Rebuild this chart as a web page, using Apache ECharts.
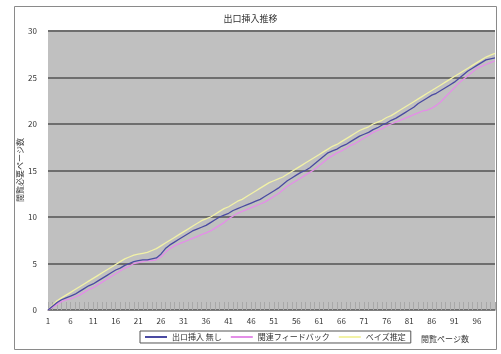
<!DOCTYPE html>
<html>
<head>
<meta charset="utf-8">
<script src="https://cdn.jsdelivr.net/npm/echarts@6/dist/echarts.min.js"></script>
<style>
html,body{margin:0;padding:0;background:#fff;}
#chart{width:501px;height:354px;}
</style>
</head>
<body>
<div id="chart"></div>
<script>
// 閲覧ページ数 1..100
const pages = [];
for (let i = 1; i <= 100; i++) pages.push(String(i));

const seriesNames = ['出ロ挿入 無し', '関連フィードバック', 'ベイズ推定'];

const noInsert = [
  0, 0.4, 0.8, 1.1, 1.3, 1.5, 1.7, 2.0, 2.3, 2.6,
  2.8, 3.1, 3.4, 3.7, 4.0, 4.3, 4.5, 4.8, 5.0, 5.2,
  5.3, 5.4, 5.4, 5.5, 5.6, 6.0, 6.6, 7.0, 7.3, 7.6,
  7.9, 8.2, 8.5, 8.7, 8.9, 9.1, 9.4, 9.7, 10.0, 10.2,
  10.4, 10.7, 10.9, 11.1, 11.3, 11.5, 11.7, 11.9, 12.2, 12.5,
  12.8, 13.1, 13.5, 13.9, 14.2, 14.5, 14.8, 15.0, 15.3, 15.7,
  16.1, 16.5, 16.9, 17.1, 17.3, 17.6, 17.8, 18.1, 18.4, 18.7,
  18.9, 19.1, 19.4, 19.6, 19.9, 20.1, 20.4, 20.6, 20.9, 21.2,
  21.5, 21.8, 22.2, 22.5, 22.8, 23.1, 23.3, 23.6, 23.9, 24.2,
  24.5, 24.9, 25.3, 25.7, 26.0, 26.3, 26.6, 26.9, 27.0, 27.1
];

const feedback = [
  0, 0.3, 0.6, 0.9, 1.1, 1.2, 1.4, 1.6, 1.9, 2.2,
  2.4, 2.7, 3.0, 3.3, 3.6, 3.9, 4.2, 4.5, 4.7, 5.0,
  5.1, 5.2, 5.3, 5.3, 5.4, 5.7, 6.2, 6.6, 6.9, 7.1,
  7.3, 7.5, 7.7, 7.9, 8.1, 8.3, 8.5, 8.8, 9.1, 9.4,
  9.8, 10.1, 10.4, 10.6, 10.8, 11.0, 11.2, 11.4, 11.6, 11.9,
  12.2, 12.5, 12.9, 13.3, 13.6, 13.9, 14.2, 14.5, 14.8, 15.1,
  15.5, 15.9, 16.3, 16.6, 16.9, 17.1, 17.4, 17.7, 17.9, 18.2,
  18.5, 18.8, 19.1, 19.3, 19.5, 19.8, 20.0, 20.2, 20.4, 20.6,
  20.8, 21.0, 21.2, 21.4, 21.5, 21.7, 22.0, 22.4, 22.9, 23.4,
  23.9, 24.4, 24.8, 25.2, 25.6, 26.0, 26.2, 26.4, 26.6, 26.8
];

const bayes = [
  0, 0.5, 1.0, 1.3, 1.6, 1.9, 2.2, 2.5, 2.8, 3.1,
  3.4, 3.7, 4.0, 4.3, 4.6, 4.9, 5.2, 5.5, 5.7, 5.9,
  6.0, 6.1, 6.2, 6.4, 6.6, 6.9, 7.2, 7.5, 7.8, 8.1,
  8.4, 8.7, 9.0, 9.3, 9.6, 9.8, 10.0, 10.3, 10.6, 10.9,
  11.1, 11.4, 11.7, 11.9, 12.2, 12.5, 12.8, 13.1, 13.4, 13.7,
  13.9, 14.1, 14.3, 14.6, 14.9, 15.2, 15.5, 15.8, 16.1, 16.4,
  16.7, 17.0, 17.3, 17.6, 17.8, 18.1, 18.4, 18.7, 19.0, 19.3,
  19.5, 19.7, 20.0, 20.2, 20.4, 20.7, 20.9, 21.2, 21.5, 21.8,
  22.1, 22.4, 22.7, 23.0, 23.3, 23.6, 23.9, 24.2, 24.5, 24.8,
  25.1, 25.4, 25.7, 26.0, 26.3, 26.6, 26.9, 27.2, 27.4, 27.6
];

const colors = ['#4a4aa2', '#e48ee8', '#f2f2a6'];
const FONT = '"Noto Sans CJK JP", sans-serif';

const chart = echarts.init(document.getElementById('chart'), null, {renderer: 'canvas'});
chart.setOption({
  animation: false,
  textStyle: {fontFamily: FONT},
  title: {
    text: '出口挿入推移',
    left: 'center', top: 9,
    textStyle: {fontSize: 9, fontWeight: 'normal', color: '#333', fontFamily: FONT}
  },
  legend: {
    data: seriesNames,
    left: 140, top: 331,
    itemWidth: 22, itemHeight: 2, itemGap: 9,
    padding: [2, 5],
    borderColor: '#555', borderWidth: 1,
    icon: 'rect',
    textStyle: {fontSize: 8, color: '#333', fontFamily: FONT}
  },
  grid: {left: 48, right: 6, top: 31, bottom: 44, outerBoundsMode: 'none', containLabel: false},
  xAxis: {
    type: 'category',
    data: pages,
    boundaryGap: false,
    axisLine: {lineStyle: {color: '#808080'}},
    axisTick: {inside: true, length: 8, interval: 0, lineStyle: {color: '#a8a8a8'}},
    axisLabel: {interval: 4, fontSize: 8, color: '#333', margin: 7}
  },
  yAxis: {
    type: 'value',
    min: 0, max: 30, interval: 5,
    axisLine: {show: false},
    axisTick: {show: false},
    axisLabel: {fontSize: 8, color: '#333', margin: 11},
    splitLine: {lineStyle: {color: '#6e6e6e', width: 2}},
    splitArea: {show: true, areaStyle: {color: ['#c0c0c0', '#c0c0c0']}}
  },
  series: [
    {name: seriesNames[0], type: 'line', data: noInsert, symbol: 'none', lineStyle: {width: 1.3, color: colors[0]}, itemStyle: {color: colors[0]}, z: 4},
    {name: seriesNames[1], type: 'line', data: feedback, symbol: 'none', lineStyle: {width: 1.3, color: colors[1]}, itemStyle: {color: colors[1]}, z: 3},
    {name: seriesNames[2], type: 'line', data: bayes, symbol: 'none', lineStyle: {width: 1.3, color: colors[2]}, itemStyle: {color: colors[2]}, z: 2}
  ],
  graphic: [
    {type: 'rect', shape: {x: 14.5, y: 6.5, width: 482, height: 343}, style: {fill: 'none', stroke: '#8a8a8a', lineWidth: 1}, z: -1},
    // y-axis title, rotated to read bottom-to-top
    {type: 'text', x: 20, y: 170, rotation: Math.PI / 2,
     style: {text: '閲覧必要ページ数', fontSize: 8, fill: '#333', fontFamily: FONT, align: 'center', verticalAlign: 'middle'}},
    {type: 'text', left: 421, top: 335, style: {text: '閲覧ページ数', fontSize: 8, fill: '#333', fontFamily: FONT}}
  ]
});
</script>
</body>
</html>
